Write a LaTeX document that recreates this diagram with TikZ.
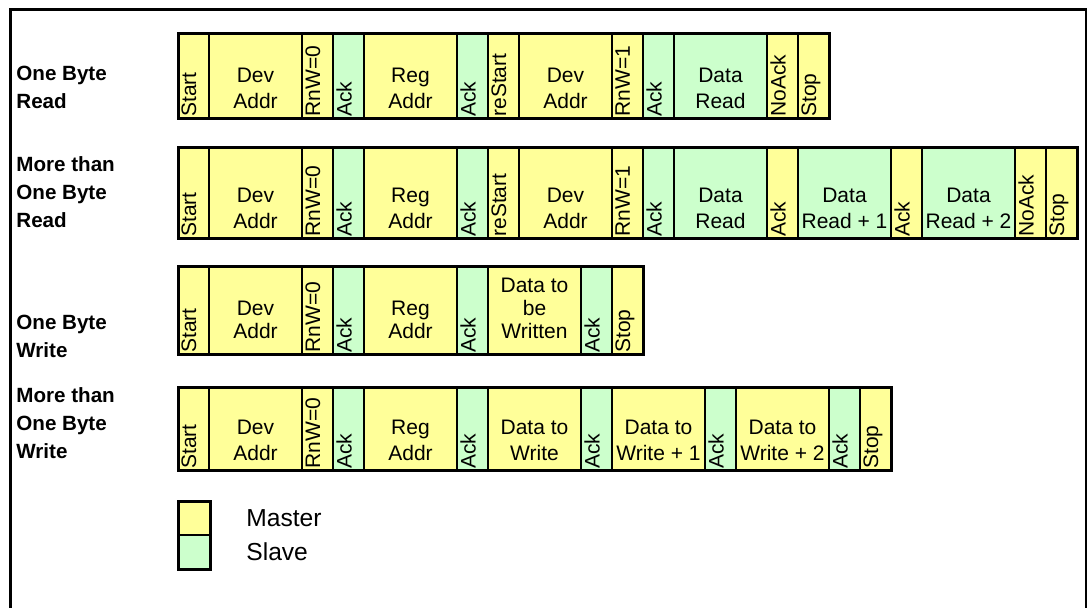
\documentclass[tikz,border=0pt]{standalone}
\usepackage{fontspec}
\setmainfont{Liberation Sans}
\usetikzlibrary{positioning}

\definecolor{mst}{HTML}{FFFF99}
\definecolor{slv}{HTML}{CCFFCC}

\begin{document}
\begin{tikzpicture}[
    x=0.5pt, y=-0.5pt,
    field/.style={draw, line width=0.8pt, inner sep=0pt, outer sep=0pt, minimum width=15.5pt},
    startpt/.style={inner sep=0pt, outer sep=0pt, minimum size=0pt},
    vtext/.style={rotate=90, anchor=north west, inner xsep=1pt, inner ysep=1.5pt, font=\fontsize{10.5}{12}\selectfont},
    htext/.style={anchor=south, align=center, inner sep=0pt, yshift=5pt, font=\fontsize{10.5}{#1}\selectfont},
    htext/.default=13pt,
    rowframe/.style={draw, line width=1.5pt},
    rowlabel/.style={anchor=west, align=left, inner sep=0pt, font=\bfseries\fontsize{10.3}{14}\selectfont},
    legtext/.style={anchor=west, inner sep=0pt, font=\fontsize{12.3}{14}\selectfont}
]
\useasboundingbox (0,0) rectangle (1087,608);
\clip (0,0) rectangle (1087,608);

% Outer frame
\draw[line width=1.5pt] (10,9.5) rectangle (1086,700);

% Row labels
\node[rowlabel] (lab1) at (16,87) {One Byte\\Read};
\node[rowlabel] (lab2) at (16,192) {More than\\One Byte\\Read};
\node[rowlabel] (lab3) at (16,336) {One Byte\\Write};
\node[rowlabel] (lab4) at (16,423) {More than\\One Byte\\Write};

% One byte read
\node[startpt] (r1-0) at (178,76.5) {};
\foreach \w/\c/\t [count=\i, remember=\i as \j (initially 0)] in {
    1/mst/Start, 3/mst/{Dev\\Addr}, 1/mst/RnW=0, 1/slv/Ack, 3/mst/{Reg\\Addr},
    1/slv/Ack, 1/mst/reStart, 3/mst/{Dev\\Addr}, 1/mst/RnW=1, 1/slv/Ack,
    3/slv/{Data\\Read}, 1/mst/NoAck, 1/mst/Stop}{
    \node[field, fill=\c, minimum width=\w*15.5pt, minimum height=42.5pt, right=0pt of r1-\j] (r1-\i) {};
    \ifnum\w=1
        \node[vtext] (r1-t\i) at (r1-\i.south west) {\t};
    \else
        \node[htext] (r1-t\i) at (r1-\i.south) {\t};
    \fi
}
\draw[rowframe] (r1-1.north west) rectangle (r1-13.south east);

% More than one byte read
\node[startpt] (r2-0) at (178,193.5) {};
\foreach \w/\c/\t [count=\i, remember=\i as \j (initially 0)] in {
    1/mst/Start, 3/mst/{Dev\\Addr}, 1/mst/RnW=0, 1/slv/Ack, 3/mst/{Reg\\Addr},
    1/slv/Ack, 1/mst/reStart, 3/mst/{Dev\\Addr}, 1/mst/RnW=1, 1/slv/Ack,
    3/slv/{Data\\Read}, 1/mst/Ack, 3/slv/{Data\\Read + 1}, 1/mst/Ack,
    3/slv/{Data\\Read + 2}, 1/mst/NoAck, 1/mst/Stop}{
    \node[field, fill=\c, minimum width=\w*15.5pt, minimum height=45.5pt, right=0pt of r2-\j] (r2-\i) {};
    \ifnum\w=1
        \node[vtext] (r2-t\i) at (r2-\i.south west) {\t};
    \else
        \node[htext] (r2-t\i) at (r2-\i.south) {\t};
    \fi
}
\draw[rowframe] (r2-1.north west) rectangle (r2-17.south east);

% One byte write
\node[startpt] (r3-0) at (178,311) {};
\foreach \w/\c/\t [count=\i, remember=\i as \j (initially 0)] in {
    1/mst/Start, 3/mst/{Dev\\Addr}, 1/mst/RnW=0, 1/slv/Ack, 3/mst/{Reg\\Addr},
    1/slv/Ack, 3/mst/{Data to\\be\\Written}, 1/slv/Ack, 1/mst/Stop}{
    \node[field, fill=\c, minimum width=\w*15.5pt, minimum height=44pt, right=0pt of r3-\j] (r3-\i) {};
    \ifnum\w=1
        \node[vtext] (r3-t\i) at (r3-\i.south west) {\t};
    \else
        \node[htext=11.5pt, yshift=3pt] (r3-t\i) at (r3-\i.south) {\t};
    \fi
}
\draw[rowframe] (r3-1.north west) rectangle (r3-9.south east);

% More than one byte write
\node[startpt] (r4-0) at (178,429.5) {};
\foreach \w/\c/\t [count=\i, remember=\i as \j (initially 0)] in {
    1/mst/Start, 3/mst/{Dev\\Addr}, 1/mst/RnW=0, 1/slv/Ack, 3/mst/{Reg\\Addr},
    1/slv/Ack, 3/mst/{Data to\\Write}, 1/slv/Ack, 3/mst/{Data to\\Write + 1},
    1/slv/Ack, 3/mst/{Data to\\Write + 2}, 1/slv/Ack, 1/mst/Stop}{
    \node[field, fill=\c, minimum width=\w*15.5pt, minimum height=41.5pt, right=0pt of r4-\j] (r4-\i) {};
    \ifnum\w=1
        \node[vtext] (r4-t\i) at (r4-\i.south west) {\t};
    \else
        \node[htext] (r4-t\i) at (r4-\i.south) {\t};
    \fi
}
\draw[rowframe] (r4-1.north west) rectangle (r4-13.south east);

% Legend
\node[field, fill=mst, minimum width=16pt, minimum height=16.5pt, anchor=north west] (legM) at (178,502) {};
\node[field, fill=slv, minimum width=16pt, minimum height=17.5pt, below=0pt of legM] (legS) {};
\draw[rowframe] (legM.north west) rectangle (legS.south east);
\node[legtext] (legMt) at (246,518) {Master};
\node[legtext] (legSt) at (246,552) {Slave};

\end{tikzpicture}
\end{document}
